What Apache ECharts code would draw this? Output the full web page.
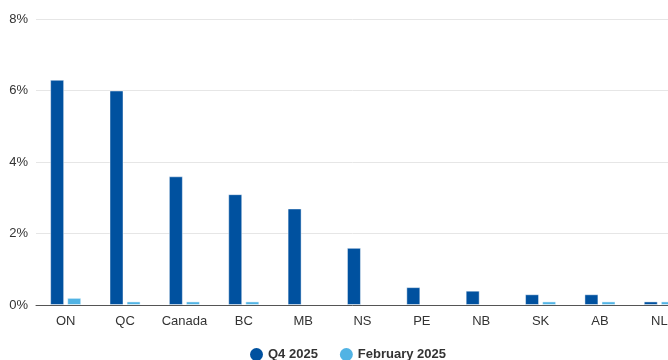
<!DOCTYPE html>
<html>
<head>
<meta charset="utf-8">
<script src="https://cdn.jsdelivr.net/npm/echarts@6/dist/echarts.min.js"></script>
<style>
  html, body { margin: 0; padding: 0; background: #fff; overflow: hidden; }
  #chart { width: 668px; height: 360px; }
</style>
</head>
<body>
<div id="chart"></div>
<script>
// Provinces and the national total
const categories = ['ON', 'QC', 'Canada', 'BC', 'MB', 'NS', 'PE', 'NB', 'SK', 'AB', 'NL'];
// Share, in percent
const q4_2025 = [6.3, 6.0, 3.6, 3.1, 2.7, 1.6, 0.5, 0.4, 0.3, 0.3, 0.1];
const feb_2025 = [0.2, 0.1, 0.1, 0.1, 0, 0, 0, 0, 0.1, 0.1, 0.1];
const seriesNames = ['Q4 2025', 'February 2025'];
const yTicks = { min: 0, max: 8, interval: 2 };

const chart = echarts.init(document.getElementById('chart'), null, { renderer: 'canvas' });
const font = '"Liberation Sans", Arial, Helvetica, sans-serif';

// Thin light edge on bars with a value; none on empty ones
const barStyle = (color) => ({
  color: color,
  borderColor: 'rgba(255,255,255,0.45)',
  borderWidth: 1
});
const toItems = (arr, color) => arr.map(v => v > 0
  ? { value: v, itemStyle: barStyle(color) }
  : { value: v, itemStyle: { color: color, borderWidth: 0 } });

chart.setOption({
  animation: false,
  textStyle: { fontFamily: font },
  // plot runs past the right edge of the canvas
  grid: { left: 36, top: 19, bottom: 55, width: 653, containLabel: false, outerBoundsMode: 'none' },
  legend: {
    top: 343,
    left: 245,
    icon: 'circle',
    itemWidth: 13,
    itemHeight: 13,
    itemGap: 22,
    textStyle: { fontSize: 13, fontWeight: 'bold', color: '#333', fontFamily: font },
    data: seriesNames
  },
  xAxis: {
    type: 'category',
    data: categories,
    axisTick: { show: false },
    axisLine: { lineStyle: { color: '#555', width: 1 } },
    axisLabel: { color: '#333', fontSize: 13, margin: 10, interval: 0, fontFamily: font }
  },
  yAxis: {
    type: 'value',
    min: yTicks.min,
    max: yTicks.max,
    interval: yTicks.interval,
    axisLabel: { formatter: '{value}%', color: '#333', fontSize: 13, margin: 8, fontFamily: font },
    axisLine: { show: false },
    axisTick: { show: false },
    splitLine: { lineStyle: { color: '#e6e6e6', width: 1 } }
  },
  series: [
    {
      name: seriesNames[0],
      type: 'bar',
      data: toItems(q4_2025, '#00519f'),
      barWidth: 14,
      barGap: '22%',
      itemStyle: { color: '#00519f' }
    },
    {
      name: seriesNames[1],
      type: 'bar',
      data: toItems(feb_2025, '#51b3e4'),
      barWidth: 14,
      itemStyle: { color: '#51b3e4' }
    }
  ]
});
</script>
</body>
</html>
